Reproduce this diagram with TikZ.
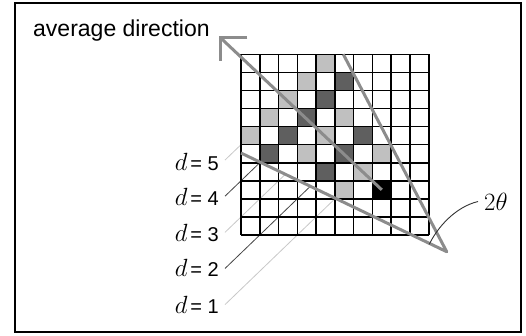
\documentclass[tikz,border=0pt]{standalone}
\usepackage{fontspec}
\setmainfont{Liberation Sans}
\definecolor{conegray}{HTML}{8C8C8C}
\definecolor{lightcell}{HTML}{C0C0C0}
\definecolor{darkcell}{HTML}{5F5F5F}
\definecolor{dlight}{HTML}{C8C8C8}
\definecolor{ddark}{HTML}{454545}
\definecolor{leader}{HTML}{333333}
\begin{document}
\begin{tikzpicture}[x=1pt,y=-1pt,
  gridline/.style={line width=1.6pt, draw=black},
  conestyle/.style={line width=3pt, draw=conegray},
  dlightline/.style={line width=0.8pt, draw=dlight},
  ddarkline/.style={line width=0.8pt, draw=ddark},
  dlabel/.style={anchor=base east, inner sep=0pt, text=black},
  leaderline/.style={line width=0.9pt, draw=leader}
]
\useasboundingbox (0,0) rectangle (526,335);
\draw[line width=2pt] (14.5,3) rectangle (520.5,332);

\def\cw{18.77}
\def\ch{18.07}
\def\xo{241}
\def\yo{54.3}

% cells
\foreach \r/\c in {0/4,1/3,2/2,3/1,4/0,3/5,4/4,5/3,5/7,6/6,7/5}
  \fill[lightcell] ({\xo+\c*\cw},{\yo+\r*\ch}) rectangle ++(\cw,\ch);
\foreach \r/\c in {1/5,2/4,3/3,4/2,5/1,4/6,5/5,6/4}
  \fill[darkcell] ({\xo+\c*\cw},{\yo+\r*\ch}) rectangle ++(\cw,\ch);
\fill[black] ({\xo+7*\cw},{\yo+7*\ch}) rectangle ++(\cw,\ch);

% key points
\coordinate (ctr) at ({\xo+7.5*\cw},{\yo+7.5*\ch});
\coordinate (tip) at (220,37.3);
\coordinate (apex) at (446.7,251.7);
\coordinate (upS) at (343.3,54.3);
\coordinate (loS) at (241,153);

% d lines
\foreach \k/\lab/\base in {5/5/170.7,7/4/205.7,9/3/241.7,11/2/276.7,13/1/313.3}{
  \coordinate (L\lab) at (225,{69.7+18.07*\k});
  \coordinate (F\lab) at ({\xo+\k*\cw},\yo);
  \node[dlabel] (d\lab) at (219,\base) {{\fontsize{27}{27}\selectfont$d$}\hspace{3pt}{\fontsize{20}{20}\selectfont= \lab}};
}
\coordinate (E5) at (\xo,{\yo+5*\ch});
\draw[dlightline] (L5) -- (E5);
\draw[ddarkline] (L4) -- (intersection of L4--F4 and loS--apex);
\draw[dlightline] (L3) -- (intersection of L3--F3 and loS--apex);
\draw[ddarkline] (L2) -- (intersection of L2--F2 and loS--apex);
\draw[dlightline] (L1) -- (intersection of L1--F1 and loS--apex);

% grid lines
\foreach \i in {0,...,10}{
  \draw[gridline] ({\xo+\i*\cw},\yo) -- ({\xo+\i*\cw},{\yo+10*\ch});
  \draw[gridline] (\xo,{\yo+\i*\ch}) -- ({\xo+10*\cw},{\yo+\i*\ch});
}

% cone and average direction
\draw[conestyle, line join=round] (upS) -- (apex) -- (loS);
\draw[conestyle] (ctr) -- (tip);
\draw[conestyle, line join=miter] (247.3,37.3) -- (tip) -- (220,60.7);

\node[anchor=base west, inner sep=0pt, font=\fontsize{23}{23}\selectfont] (avg) at (33,36.7) {average direction};

% 2 theta
\node[anchor=west, inner sep=0pt] (theta) at (484,201.5) {\fontsize{26}{26}\selectfont$2\theta$};
\coordinate (thS) at (429.3,244.3);
\draw[leaderline] (thS) .. controls (437,228) and (455,207) .. ([xshift=-6pt]theta.west);
\end{tikzpicture}
\end{document}
